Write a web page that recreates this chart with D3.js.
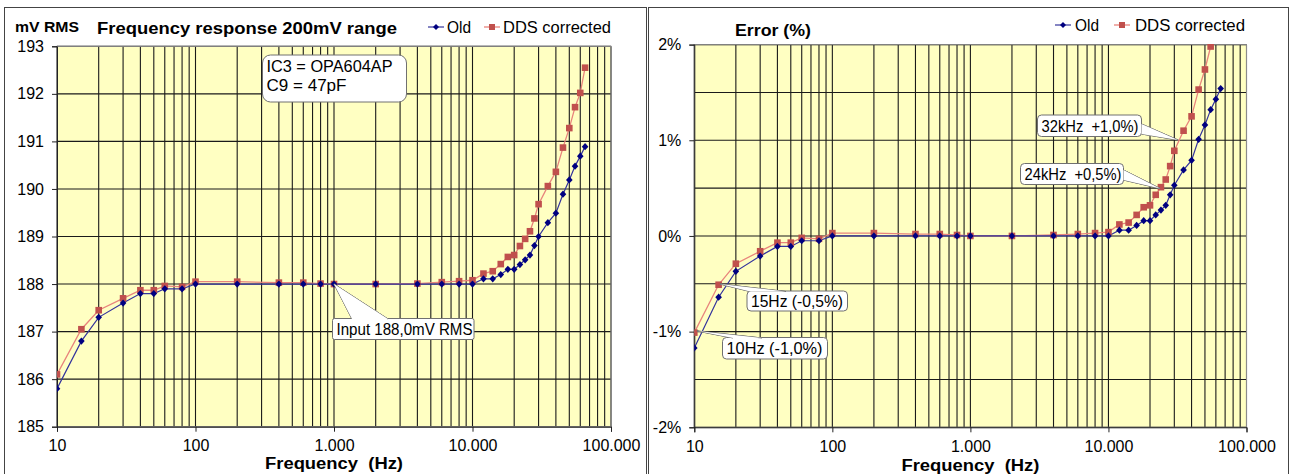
<!DOCTYPE html>
<html><head><meta charset="utf-8">
<script src="https://cdn.jsdelivr.net/npm/d3@7"></script>
<style>
html,body{margin:0;padding:0;background:#fff;}
svg text{font-family:"Liberation Sans",Arial,sans-serif;}
</style></head>
<body>
<svg id="c" width="1291" height="474"></svg>
<script>
// ---- data ----
const freqs = [10,15,20,30,40,50,60,80,100,200,400,600,800,1000,2000,4000,6000,8000,10000,12000,14000,16000,18000,20000,22000,24000,26000,28000,30000,35000,40000,45000,50000,55000,60000,65000];
const oldMv = [185.8,186.8,187.3,187.6,187.8,187.8,187.9,187.9,188.0,188.0,188.0,188.0,188.0,188.0,188.0,188.0,188.0,188.0,188.0,188.11,188.11,188.2,188.31,188.31,188.41,188.51,188.61,188.81,189.0,189.29,189.49,189.89,190.19,190.48,190.69,190.89];
const ddsMv = [186.1,187.05,187.45,187.7,187.87,187.87,187.96,187.94,188.05,188.05,188.03,188.03,188.01,188.0,188.0,188.01,188.04,188.06,188.08,188.22,188.27,188.42,188.57,188.61,188.80,188.95,189.11,189.38,189.68,190.06,190.36,190.87,191.28,191.72,192.02,192.55];
const oldErr = [-1.17,-0.64,-0.37,-0.21,-0.11,-0.11,-0.05,-0.05,0,0,0,0,0,0,0,0,0,0,0,0.06,0.06,0.11,0.16,0.16,0.22,0.27,0.32,0.43,0.53,0.69,0.79,1.01,1.16,1.32,1.43,1.54];
const ddsErr = [-1.01,-0.51,-0.29,-0.16,-0.07,-0.07,-0.02,-0.03,0.03,0.03,0.02,0.02,0.01,0,0,0.01,0.02,0.03,0.04,0.12,0.14,0.22,0.30,0.32,0.43,0.51,0.59,0.73,0.89,1.10,1.25,1.53,1.74,1.98,2.14,2.42];
const xTicks = [10,100,1000,10000,100000];
const mvTicks = [185,186,187,188,189,190,191,192,193];
const errTicks = [-2,-1,0,1,2];
const errGrid = [-2,-1.5,-1,-0.5,0,0.5,1,1.5,2];
const seriesNames = ["Old","DDS corrected"];

// ---- style ----
const C = {
  plotBg:"#ffffc2", grid:"#1a1a1a", plotBorder:"#8c8c8c", frame:"#444",
  oldLine:"#34349c", oldMark:"#000080", ddsLine:"#e8847c", ddsMark:"#c0504d"
};
const loc = d3.formatLocale({decimal:",", thousands:".", grouping:[3], currency:["",""]});
const fmtX = loc.format(",");

const svg = d3.select("#c");

function minorTicks(){
  const t=[];
  for(let d=10; d<100000; d*=10) for(let k=1;k<10;k++) t.push(d*k);
  t.push(100000);
  return t;
}
function txt(sel, o){
  const t = sel.append("text").attr("x",o.x).attr("y",o.y).attr("font-size",o.size)
    .attr("xml:space","preserve").text(o.text);
  if(o.bold) t.attr("font-weight","bold");
  if(o.anchor) t.attr("text-anchor",o.anchor);
  if(o.len) t.attr("textLength",o.len).attr("lengthAdjust","spacingAndGlyphs");
  return t;
}

function drawChart(cfg){
  const g = svg.append("g");
  g.append("rect").attr("x",cfg.frame[0]+0.5).attr("y",cfg.frame[1]+0.5)
    .attr("width",cfg.frame[2]).attr("height",cfg.frame[3])
    .attr("fill","none").attr("stroke",C.frame).attr("stroke-width",1);
  const x = d3.scaleLog().domain([10,100000]).range([cfg.x0,cfg.x1]);
  const y = d3.scaleLinear().domain(cfg.yDomain).range([cfg.y1,cfg.y0]);
  g.append("rect").attr("x",cfg.x0).attr("y",cfg.y0).attr("width",cfg.x1-cfg.x0).attr("height",cfg.y1-cfg.y0).attr("fill",C.plotBg);
  g.append("g").selectAll("line").data(minorTicks()).join("line")
    .attr("x1",d=>x(d)).attr("x2",d=>x(d)).attr("y1",cfg.y0).attr("y2",cfg.y1)
    .attr("stroke",C.grid).attr("stroke-width",1.1);
  g.append("g").selectAll("line").data(cfg.yGrid).join("line")
    .attr("x1",cfg.x0).attr("x2",cfg.x1).attr("y1",d=>y(d)).attr("y2",d=>y(d))
    .attr("stroke",C.grid).attr("stroke-width",1.1);
  g.append("rect").attr("x",cfg.x0).attr("y",cfg.y0).attr("width",cfg.x1-cfg.x0).attr("height",cfg.y1-cfg.y0)
    .attr("fill","none").attr("stroke",C.plotBorder).attr("stroke-width",1);
  const xa = g.append("g").attr("transform",`translate(0,${cfg.y1})`)
    .call(d3.axisBottom(x).tickValues(xTicks).tickFormat(fmtX).tickSize(5).tickPadding(8));
  xa.select(".domain").attr("stroke","#222");
  xa.selectAll(".tick line").attr("stroke","#222");
  xa.selectAll("text").attr("font-size",16).attr("fill","#000").attr("font-family","Liberation Sans, Arial");
  const ya = g.append("g").attr("transform",`translate(${cfg.x0},0)`)
    .call(d3.axisLeft(y).tickValues(cfg.yTicks).tickFormat(cfg.yFmt).tickSize(5).tickPadding(8));
  ya.select(".domain").attr("stroke","#222");
  ya.selectAll(".tick line").attr("stroke","#222");
  ya.selectAll("text").attr("font-size",16).attr("fill","#000").attr("font-family","Liberation Sans, Arial");
  txt(g,{x:(cfg.x0+cfg.x1)/2,y:cfg.xTitleY,size:16,bold:true,anchor:"middle",len:138,text:"Frequency  (Hz)"});
  const cid = "clip"+cfg.id;
  svg.append("clipPath").attr("id",cid).append("rect")
    .attr("x",cfg.x0).attr("y",cfg.y0-0.5).attr("width",cfg.x1-cfg.x0).attr("height",cfg.y1-cfg.y0+1);
  const pg = g.append("g").attr("clip-path",`url(#${cid})`);
  const line = d3.line().x(d=>x(d[0])).y(d=>y(d[1]));
  const ddsPts = freqs.map((f,i)=>[f,cfg.dds[i]]);
  const oldPts = freqs.map((f,i)=>[f,cfg.old[i]]);
  const ann = g.append("g");
  pg.append("path").datum(ddsPts).attr("d",line).attr("fill","none").attr("stroke",C.ddsLine).attr("stroke-width",1.3);
  pg.append("path").datum(oldPts).attr("d",line).attr("fill","none").attr("stroke",C.oldLine).attr("stroke-width",1.2);
  pg.append("g").selectAll("rect").data(ddsPts).join("rect")
    .attr("x",d=>x(d[0])-3.3).attr("y",d=>y(d[1])-3.3).attr("width",6.6).attr("height",6.6).attr("fill",C.ddsMark);
  pg.append("g").selectAll("path").data(oldPts).join("path")
    .attr("d",d=>`M${x(d[0])},${y(d[1])-3.6}L${x(d[0])+3.3},${y(d[1])}L${x(d[0])},${y(d[1])+3.6}L${x(d[0])-3.3},${y(d[1])}Z`)
    .attr("fill",C.oldMark);
  ann.raise();
  cfg.callouts.forEach(c=>{
    if(c.wedge){
      ann.append("path").attr("d",`M${c.wedge[0][0]},${c.wedge[0][1]}L${c.wedge[1][0]},${c.wedge[1][1]}L${c.wedge[2][0]},${c.wedge[2][1]}Z`)
        .attr("fill","#fff").attr("stroke","#707070").attr("stroke-width",1);
    }
    ann.append("rect").attr("x",c.box[0]).attr("y",c.box[1]).attr("width",c.box[2]).attr("height",c.box[3])
      .attr("rx",c.r).attr("ry",c.r).attr("fill","#fff").attr("stroke","#707070").attr("stroke-width",1);
    if(c.wedge){
      ann.append("path").attr("d",`M${c.wedge[1][0]},${c.wedge[1][1]}L${c.wedge[0][0]},${c.wedge[0][1]}L${c.wedge[2][0]},${c.wedge[2][1]}`)
        .attr("fill","none").attr("stroke","#707070").attr("stroke-width",1);
      ann.append("path").attr("d",`M${c.wedge[1][0]},${c.wedge[1][1]}L${c.wedge[0][0]},${c.wedge[0][1]}L${c.wedge[2][0]},${c.wedge[2][1]}Z`)
        .attr("fill","#fff").attr("stroke","none");
    }
    c.lines.forEach((t,i)=>{
      txt(ann,{x:c.box[0]+4,y:c.box[1]+c.ty+i*19,size:16,len:c.lens[i],text:t});
    });
  });
  cfg.titles.forEach(t=>txt(g,{x:t.x,y:t.y,size:t.size,bold:true,len:t.len,text:t.text}));
  const lg = g.append("g");
  const L = cfg.legend;
  lg.append("line").attr("x1",L.ob).attr("x2",L.ob+16).attr("y1",L.y).attr("y2",L.y).attr("stroke",C.oldLine).attr("stroke-width",1.2);
  lg.append("path").attr("d",`M${L.ob+8},${L.y-3}L${L.ob+11},${L.y}L${L.ob+8},${L.y+3}L${L.ob+5},${L.y}Z`).attr("fill",C.oldMark);
  txt(lg,{x:L.ot,y:L.y+6,size:16,len:L.ol,text:seriesNames[0]});
  lg.append("line").attr("x1",L.db).attr("x2",L.db+16).attr("y1",L.y).attr("y2",L.y).attr("stroke",C.ddsLine).attr("stroke-width",1.3);
  lg.append("rect").attr("x",L.db+5).attr("y",L.y-3).attr("width",6).attr("height",6).attr("fill",C.ddsMark);
  txt(lg,{x:L.dt,y:L.y+6,size:16,len:L.dl,text:seriesNames[1]});
}

drawChart({
  id:"L", frame:[4,7,642,480], x0:57, x1:611, y0:46.3, y1:426.7,
  yDomain:[185,193], yTicks:mvTicks, yGrid:mvTicks, yFmt:d3.format("d"),
  old:oldMv, dds:ddsMv, xTitleY:469,
  titles:[{x:15,y:32,size:15,len:64,text:"mV RMS"},{x:97,y:34,size:17,len:300,text:"Frequency response 200mV range"}],
  legend:{ob:428,ot:447,ol:24,db:484,dt:503,dl:108,y:27},
  callouts:[
    {box:[262.5,55,144,47], r:8, ty:17, lines:["IC3 = OPA604AP","C9 = 47pF"], lens:[126,80]},
    {box:[332.5,318.5,141.5,21], r:2, ty:16.5, lines:["Input 188,0mV RMS"], lens:[136], wedge:[[334,284],[352,319],[388,319]]}
  ]
});

drawChart({
  id:"R", frame:[648,7,640,480], x0:694.3, x1:1246.5, y0:44.6, y1:427.3,
  yDomain:[-2,2], yTicks:errTicks, yGrid:errGrid, yFmt:d=>d+"%",
  old:oldErr, dds:ddsErr, xTitleY:471,
  titles:[{x:735,y:36,size:17,len:76,text:"Error (%)"}],
  legend:{ob:1055,ot:1075,ol:24,db:1114,dt:1135,dl:110,y:25},
  callouts:[
    {box:[747,291,100.5,20], r:4, ty:16, lines:["15Hz (-0,5%)"], lens:[92], wedge:[[720,284],[750,291.5],[786,291.5]]},
    {box:[722.5,337.5,105,21.5], r:4, ty:16.5, lines:["10Hz (-1,0%)"], lens:[96], wedge:[[697,331],[733,338],[762,338]]},
    {box:[1037.5,115,104,21.5], r:4, ty:16.5, lines:["32kHz  +1,0%)"], lens:[97], wedge:[[1178,140],[1141.5,124],[1141.5,134]]},
    {box:[1020.5,163.5,103,21], r:4, ty:16.5, lines:["24kHz  +0,5%)"], lens:[97], wedge:[[1160,188.5],[1123.5,170],[1123.5,180]]}
  ]
});
</script>
</body></html>
